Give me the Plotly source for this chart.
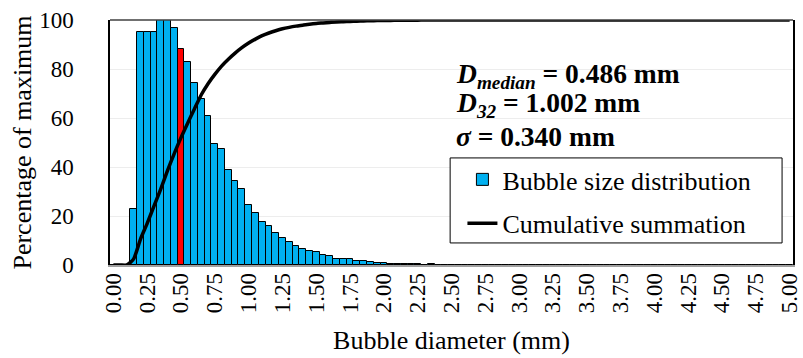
import plotly.graph_objects as go

# ---- data ----
diameters = [round(i * 0.05, 2) for i in range(101)]  # bin centres (mm)

distribution = [
    0, 0, 0, 23.0, 95.3, 95.3, 95.3, 100.0, 100.0, 96.6,
    88.2, 83.0, 74.4, 67.8, 61.0, 49.4, 47.3, 38.9, 34.4, 31.0,
    24.6, 21.4, 17.7, 15.8, 12.9, 10.9, 9.3, 7.9, 6.5, 5.9,
    5.2, 4.1, 3.5, 2.6, 2.6, 2.3, 1.8, 1.6, 1.4, 1.0,
    0.7, 0.5, 0.4, 0.5, 0.3, 0.3, 0.2, 0.3, 0.2, 0.1,
    0.2, 0.1, 0.1, 0.1, 0.1, 0, 0.1, 0.1, 0, 0.1,
    0.1, 0, 0, 0.1, 0.1, 0, 0.1, 0.1, 0.1, 0.1,
    0, 0, 0, 0, 0, 0, 0.1, 0.1, 0, 0,
    0, 0, 0, 0, 0, 0, 0, 0, 0, 0,
    0, 0, 0, 0, 0, 0, 0, 0, 0, 0,
    0,
]

cumulative = [
    0, 0, 0, 2.5, 10.5, 17.0, 24.0, 31.0, 38.5, 45.5,
    52.0, 58.0, 63.8, 69.5, 74.0, 77.8, 81.2, 84.0, 86.5, 88.7,
    90.6, 92.2, 93.6, 94.7, 95.6, 96.4, 97.0, 97.5, 97.9, 98.3,
    98.6, 98.8, 99.0, 99.2, 99.3, 99.4, 99.5, 99.6, 99.7, 99.75,
    99.8, 99.84, 99.87, 99.9, 99.92, 99.94, 99.96, 99.97, 99.98, 99.99,
    100, 100, 100, 100, 100, 100, 100, 100, 100, 100,
    100, 100, 100, 100, 100, 100, 100, 100, 100, 100,
    100, 100, 100, 100, 100, 100, 100, 100, 100, 100,
    100, 100, 100, 100, 100, 100, 100, 100, 100, 100,
    100, 100, 100, 100, 100, 100, 100, 100, 100, 100,
    100,
]

median_bin = 0.50
x_tick_values = [i * 0.25 for i in range(21)]
x_tick_labels = ["%.2f" % v for v in x_tick_values]
y_tick_values = [0, 20, 40, 60, 80, 100]

stats_lines = [
    "<b><i>D</i><sub><i>median</i></sub> = 0.486 mm</b>",
    "<b><i>D</i><sub><i>32</i></sub> = 1.002 mm</b>",
    "<b><i>σ</i> = 0.340 mm</b>",
]

# ---- styling ----
FONT = "Liberation Serif"
BLUE = "#00B0F0"
RED = "#FF0000"
bar_colors = [RED if abs(d - median_bin) < 1e-9 else BLUE for d in diameters]

fig = go.Figure()
fig.add_trace(go.Bar(
    x=diameters, y=distribution, width=0.05,
    marker=dict(color=bar_colors, line=dict(color="black", width=1)),
    name="Bubble size distribution", legendgroup="a",
))
fig.add_trace(go.Scatter(
    x=diameters, y=cumulative, mode="lines",
    line=dict(color="black", width=3.5, shape="spline", smoothing=0.6),
    name="Cumulative summation", legendgroup="b",
))

ann_y = [0.775, 0.655, 0.525]
for txt, yy in zip(stats_lines, ann_y):
    fig.add_annotation(
        x=0.503, y=yy, xref="paper", yref="paper",
        xanchor="left", yanchor="middle", showarrow=False,
        text=txt, font=dict(family=FONT, size=27.5, color="black"),
    )

# legend frame (plot-area paper coordinates)
fig.add_shape(type="rect", xref="paper", yref="paper",
              x0=0.498, x1=0.984, y0=0.09, y1=0.437,
              line=dict(color="black", width=1), fillcolor="white", layer="above")

fig.update_layout(
    width=803, height=358,
    margin=dict(l=110, r=10, t=20, b=93),
    paper_bgcolor="white", plot_bgcolor="white",
    font=dict(family=FONT, color="black"),
    bargap=0,
    showlegend=True,
    legend=dict(
        x=0.516, y=0.445, xanchor="left", yanchor="top",
        bgcolor="rgba(0,0,0,0)", borderwidth=0,
        font=dict(family=FONT, size=26, color="black"),
        tracegroupgap=7,
    ),
)
fig.update_xaxes(
    range=[-0.025, 5.025], automargin=False,
    tickmode="array", tickvals=x_tick_values, ticktext=x_tick_labels,
    tickangle=-90, tickfont=dict(family=FONT, size=23, color="black"),
    ticklabelstandoff=-3,
    showgrid=False, zeroline=False,
    showline=True, linecolor="#A0A0A0", linewidth=1.5,
    ticks="",
    title=dict(text="Bubble diameter (mm)", font=dict(family=FONT, size=26), standoff=19),
)
fig.update_yaxes(
    range=[0, 100], automargin=False,
    tickmode="array", tickvals=y_tick_values,
    tickfont=dict(family=FONT, size=23, color="black"),
    ticklabelstandoff=30,
    showgrid=True, gridcolor="#EDEDED", gridwidth=1,
    zeroline=False,
    showline=True, linecolor="black", linewidth=1.5, mirror=True,
    ticks="",
    title=dict(text="Percentage of maximum", font=dict(family=FONT, size=26), standoff=0),
)
fig.add_shape(type="line", xref="paper", yref="paper", x0=0, x1=1, y0=1, y1=1,
              line=dict(color="#404040", width=1.5))

fig.write_html("out.html", config={"displayModeBar": False},
               post_script="document.body.style.margin='0px';")
